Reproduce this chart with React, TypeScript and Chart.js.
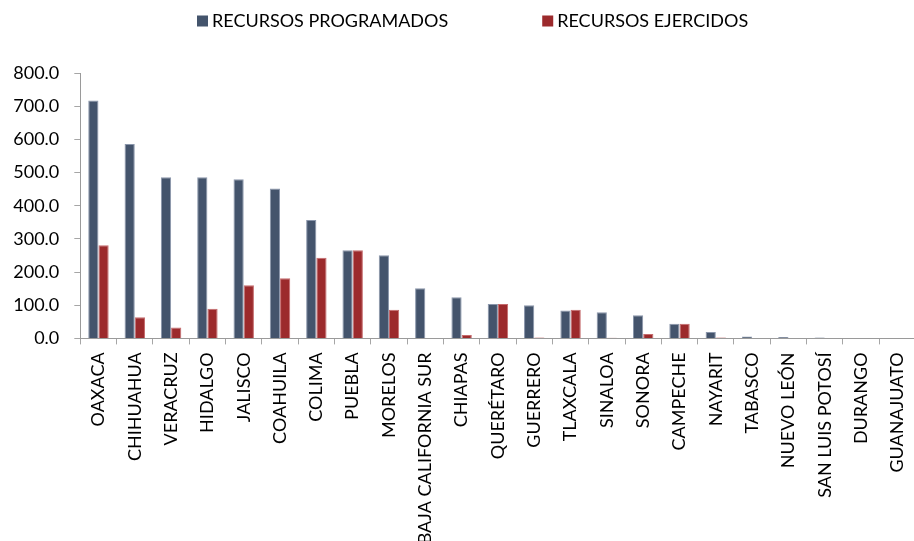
import React, { useEffect, useRef } from "react";
import { Chart, registerables } from "chart.js";

Chart.register(...registerables);

const categories = [
  "OAXACA", "CHIHUAHUA", "VERACRUZ", "HIDALGO", "JALISCO", "COAHUILA", "COLIMA",
  "PUEBLA", "MORELOS", "BAJA CALIFORNIA SUR", "CHIAPAS", "QUERÉTARO", "GUERRERO",
  "TLAXCALA", "SINALOA", "SONORA", "CAMPECHE", "NAYARIT", "TABASCO", "NUEVO LEÓN",
  "SAN LUIS POTOSÍ", "DURANGO", "GUANAJUATO",
];

const programados = [
  717, 586, 486, 486, 480, 452, 357, 266, 251, 151, 124, 104, 100,
  84, 79, 70, 44, 19, 6, 4, 3, 0, 0,
];

const ejercidos = [
  281, 64, 33, 89, 160, 181, 243, 266, 86, 0, 10, 104, 3,
  86, 2, 13, 44, 3, 0, 0, 0, 0, 0,
];

const seriesNames = ["RECURSOS PROGRAMADOS", "RECURSOS EJERCIDOS"];
const yTicksMin = 0;
const yTicksMax = 800;
const yTicksStep = 100;

const FONT = "Lato";

const legendPlugin = {
  id: "customLegend",
  afterDraw(chart: any) {
    const ctx = chart.ctx;
    ctx.save();
    ctx.font = `18px ${FONT}`;
    ctx.textBaseline = "middle";
    ctx.textAlign = "left";
    const y = 21;
    let x = 197;
    chart.data.datasets.forEach((ds: any) => {
      ctx.fillStyle = ds.backgroundColor;
      ctx.fillRect(x, y - 5.5, 11, 11);
      ctx.fillStyle = "#000";
      ctx.fillText(ds.label, x + 15, y);
      x = x + 15 + ctx.measureText(ds.label).width + 94;
    });
    ctx.restore();
  },
};

export default function App() {
  const ref = useRef<HTMLCanvasElement | null>(null);

  useEffect(() => {
    if (!ref.current) return;
    const chart = new Chart(ref.current, {
      type: "bar",
      data: {
        labels: categories,
        datasets: [
          {
            label: seriesNames[0],
            data: programados,
            backgroundColor: "#44546c",
            borderColor: "#8a96ab",
            borderWidth: 1,
            categoryPercentage: 0.5625,
            barPercentage: 1,
          },
          {
            label: seriesNames[1],
            data: ejercidos,
            backgroundColor: "#9c2a2c",
            borderColor: "#c56a6c",
            borderWidth: 1,
            categoryPercentage: 0.5625,
            barPercentage: 1,
          },
        ],
      },
      options: {
        responsive: false,
        animation: false,
        devicePixelRatio: 1,
        layout: { padding: { top: 73, left: 0, right: 0, bottom: 0 } },
        plugins: {
          legend: { display: false },
          tooltip: { enabled: false },
        },
        scales: {
          x: {
            grid: {
              drawOnChartArea: false,
              drawTicks: true,
              tickLength: 6,
              color: "#a6a6a6",
              offset: true,
            },
            border: { color: "#9a9a9a", width: 1 },
            ticks: {
              autoSkip: false,
              minRotation: 90,
              maxRotation: 90,
              padding: 8,
              color: "#000",
              font: { family: FONT, size: 18 },
            },
            afterFit(scale: any) {
              scale.height = 202.6;
            },
          },
          y: {
            min: yTicksMin,
            max: yTicksMax,
            grid: {
              drawOnChartArea: false,
              drawTicks: true,
              tickLength: 6,
              color: "#a6a6a6",
            },
            border: { color: "#9a9a9a", width: 1 },
            ticks: {
              stepSize: yTicksStep,
              padding: 15,
              color: "#000",
              font: { family: FONT, size: 18 },
              callback: (v: any) => Number(v).toFixed(1),
            },
            afterFit(scale: any) {
              scale.width = 80.3;
            },
          },
        },
      },
      plugins: [legendPlugin],
    });
    return () => chart.destroy();
  }, []);

  return (
    <div
      style={{
        position: "absolute",
        left: 0,
        top: 0,
        width: 914,
        height: 541,
        overflow: "hidden",
        background: "#fff",
      }}
    >
      <canvas ref={ref} width={927} height={541} style={{ display: "block" }} />
    </div>
  );
}
